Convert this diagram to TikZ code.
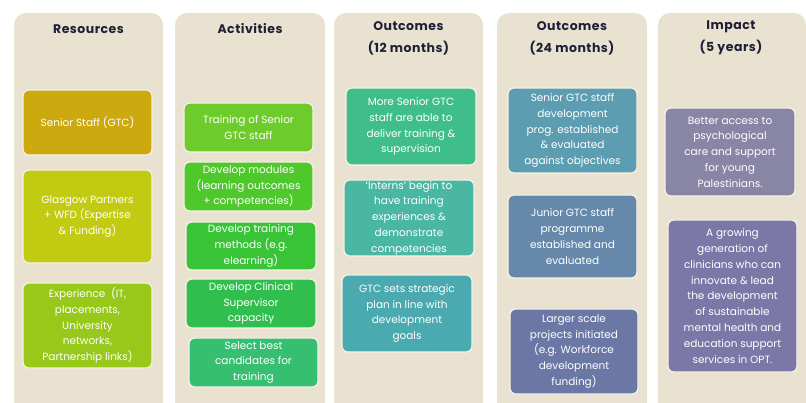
\documentclass[tikz,border=0pt]{standalone}
\usepackage{fontspec}
\setmainfont{Poppins}
\newfontfamily\headfont[LetterSpace=4]{Poppins}
\definecolor{panelbg}{HTML}{EAE2D0}
\definecolor{headc}{HTML}{1E2038}
\definecolor{edgec}{HTML}{F6F2E8}
\definecolor{cA}{HTML}{CBA90F}
\definecolor{cB}{HTML}{C3CA12}
\definecolor{cC}{HTML}{97C81A}
\definecolor{cD}{HTML}{6DCB2B}
\definecolor{cE}{HTML}{4EC82A}
\definecolor{cF}{HTML}{38C436}
\definecolor{cG}{HTML}{30BF4E}
\definecolor{cH}{HTML}{36BF70}
\definecolor{cI}{HTML}{3FBE8B}
\definecolor{cJ}{HTML}{4AB7A2}
\definecolor{cK}{HTML}{4BAAAF}
\definecolor{cL}{HTML}{5D9DB1}
\definecolor{cM}{HTML}{6689AB}
\definecolor{cN}{HTML}{6B78A6}
\definecolor{cO}{HTML}{8985A5}
\definecolor{cP}{HTML}{7B78A8}
\tikzset{
  panel/.style={fill=panelbg, draw=none, rounded corners=12pt},
  head/.style={text=headc, font=\headfont\fontsize{12.5}{19}\selectfont\bfseries, align=center, anchor=north, inner sep=0pt,
    execute at begin node={\rule{0pt}{12pt}}},
  lmbox/.style={draw=edgec, line width=1.2pt, rounded corners=6pt, text=white, align=center,
    font=\fontsize{10.5}{15.8}\selectfont, inner sep=0pt, outer sep=0pt}
}
\newcommand\lmb[7]{%
  \node[lmbox, fill=#6, minimum width={(#4-#2)*1pt}, minimum height={(#5-#3)*1pt}]
    (#1) at ({(#2+#4)/2},{(#3+#5)/2}) {#7};}
\begin{document}
\begin{tikzpicture}[x=1pt,y=-1pt]
\useasboundingbox (0,0) rectangle (806,403);
% panels
\fill[panel] (14,13) rectangle (163,420);
\fill[panel] (175,13) rectangle (325,420);
\fill[panel] (334,13) rectangle (483,420);
\fill[panel] (497,13) rectangle (647,420);
\fill[panel] (658,13) rectangle (806,420);
% headers
\node[head] (h1) at (88.5,21) {Resources};
\node[head] (h2) at (250,21) {Activities};
\node[head] (h3) at (408.5,21) {Outcomes\\[3pt](12 months)};
\node[head] (h4) at (572,21) {Outcomes\\[3pt](24 months)};
\node[head] (h5) at (731,21) {Impact\\[3pt](5 years)};
% resources
\lmb{r1}{23}{90}{152}{155}{cA}{Senior Staff (GTC)}
\lmb{r2}{23}{170}{152}{263}{cB}{Glasgow Partners\\+ WFD (Expertise\\\& Funding)}
\lmb{r3}{23}{283}{152}{368}{cC}{Experience\ \ (IT,\\placements,\\University\\networks,\\Partnership links)}
% activities
\lmb{a1}{184}{103}{313}{152}{cD}{Training of Senior\\GTC staff}
\lmb{a2}{184}{162}{313}{211}{cE}{Develop modules\\(learning outcomes\\+ competencies)}
\lmb{a3}{186}{222}{316}{270}{cF}{Develop training\\methods (e.g.\\elearning)}
\lmb{a4}{186}{279}{316}{328}{cG}{Develop Clinical\\Supervisor\\capacity}
\lmb{a5}{189}{338}{318}{387}{cH}{Select best\\candidates for\\training}
% outcomes 12
\lmb{o1}{346}{88}{476}{165}{cI}{More Senior GTC\\staff are able to\\deliver training \&\\supervision}
\lmb{o2}{344}{180}{474}{256}{cJ}{`Interns' begin to\\have training\\experiences \&\\demonstrate\\competencies}
\lmb{o3}{342}{275}{472}{352}{cK}{GTC sets strategic\\plan in line with\\development\\goals}
% outcomes 24
\lmb{p1}{508}{88}{637}{173}{cL}{Senior GTC staff\\development\\prog. established\\\& evaluated\\against objectives}
\lmb{p2}{508}{195}{637}{278}{cM}{Junior GTC staff\\programme\\established and\\evaluated}
\lmb{p3}{510}{309}{638}{394}{cN}{Larger scale\\projects initiated\\(e.g. Workforce\\development\\funding)}
% impact
\lmb{i1}{665}{108}{795}{196}{cO}{Better access to\\psychological\\care and support\\for young\\Palestinians.}
\lmb{i2}{668}{220}{797}{372}{cP}{A growing\\generation of\\clinicians who can\\innovate \& lead\\the development\\of sustainable\\mental health and\\education support\\services in OPT.}
\end{tikzpicture}
\end{document}
